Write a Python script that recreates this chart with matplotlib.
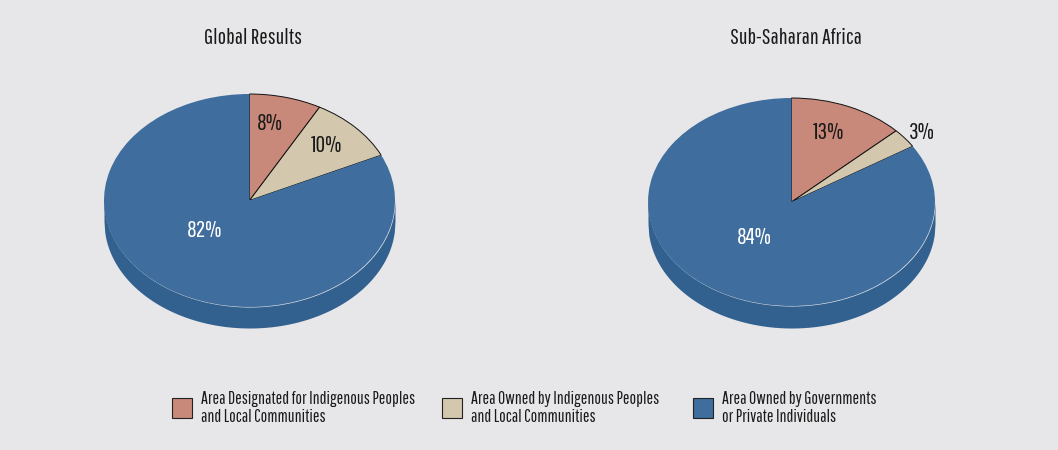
import numpy as np
import matplotlib
matplotlib.use("Agg")
import matplotlib.pyplot as plt
from matplotlib.patches import Rectangle

# data
titles = ["Global Results", "Sub-Saharan Africa"]
categories = ["Area Designated for Indigenous Peoples\nand Local Communities",
              "Area Owned by Indigenous Peoples\nand Local Communities",
              "Area Owned by Governments\nor Private Individuals"]
global_vals = [8, 10, 82]
ssa_vals = [13, 3, 84]

colors = ["#c8887a", "#d3c8ad", "#3f6e9e"]
side_color = "#33618f"
bg = "#e7e7e9"
W, H = 1058, 450

plt.rcParams['font.family'] = ['Pathway Gothic One', 'DejaVu Sans']

fig = plt.figure(figsize=(W / 100, H / 100), dpi=100, facecolor=bg)

# pixel boxes of the pies: left, right, top of face, bottom of side, depth (px)
boxes = [(104, 395, 94, 328, 21), (648, 935, 98, 328, 22)]
# label positions in pie units (x/rx, y/ry)
label_pos = [[(0.14, 0.72), (0.53, 0.52), (-0.31, -0.28)],
             [(0.26, 0.67), (0.91, 0.67), (-0.26, -0.34)]]
label_col = ["#1a1a1a", "#1a1a1a", "white"]

for k, vals in enumerate([global_vals, ssa_vals]):
    l, r, t, b, dpx = boxes[k]
    ry = (b - t - dpx) / 2.0
    d = dpx / ry
    ax = fig.add_axes([l / W, 1 - b / H, (r - l) / W, (b - t) / H])
    # side band of the cylinder
    xs = np.linspace(-1, 1, 400)
    yt = -np.sqrt(np.clip(1 - xs ** 2, 0, None))
    ax.fill_between(xs, yt, yt - d, color=side_color, lw=0, zorder=1)
    wedges, _ = ax.pie(vals, colors=colors, startangle=90, counterclock=False,
                       wedgeprops=dict(linewidth=0), frame=True)
    for w in wedges[:2]:
        w.set_edgecolor("#111111")
        w.set_linewidth(0.7)
    for w in wedges:
        w.set_zorder(2)
    ax.set_aspect('auto')
    ax.set_xlim(-1, 1)
    ax.set_ylim(-1 - d, 1)
    ax.axis('off')
    for v, (lx, ly), c in zip(vals, label_pos[k], label_col):
        ax.text(lx, ly, f"{v}%", color=c, fontsize=17, ha='center', va='center',
                zorder=3)
    fig.text(((l + r) / 2 + 4) / W, 1 - 38 / H, titles[k], fontsize=16,
             ha='center', va='center', color="#1a1a1a")

# legend
lax = fig.add_axes([0, 0, 1, 1], facecolor='none')
lax.set_xlim(0, W)
lax.set_ylim(H, 0)
lax.axis('off')
leg_x = [172, 442, 693]
for x, c, lab in zip(leg_x, colors, categories):
    lax.add_patch(Rectangle((x, 398), 20, 20, facecolor=c, edgecolor="#222222",
                            lw=0.8))
    lax.text(x + 29, 408, lab, fontsize=12.6, ha='left', va='center',
             color="#1a1a1a", linespacing=1.1)

fig.savefig("out.png", dpi=100, facecolor=bg)
